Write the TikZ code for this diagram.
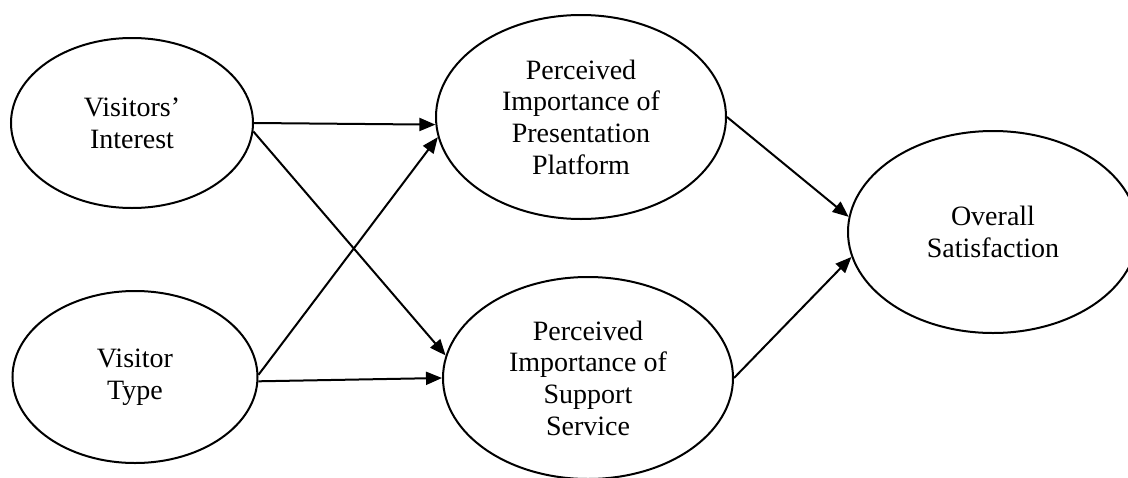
\documentclass[tikz,border=0pt]{standalone}
\usepackage{fontspec}
\setmainfont{Liberation Serif}
\usetikzlibrary{shapes.geometric,arrows.meta}
\begin{document}
\begin{tikzpicture}[x=1pt,y=-1pt,
  construct/.style={ellipse, draw, line width=2pt, inner sep=0pt, align=center,
    font=\fontsize{28}{31.7}\selectfont},
  arr/.style={line width=2pt, -{Triangle[length=16pt,width=13pt]}}]
\useasboundingbox (0,0) rectangle (1128,477);
% latent constructs
\node[construct, minimum width=242pt, minimum height=170pt] (i) at (132,123) {Visitors’\\Interest};
\node[construct, minimum width=245pt, minimum height=172pt] (t) at (135,377) {Visitor\\Type};
\node[construct, minimum width=290pt, minimum height=204pt] (p) at (581,117) {Perceived\\Importance of\\Presentation\\Platform};
\node[construct, minimum width=290pt, minimum height=202pt] (s) at (588,378) {Perceived\\Importance of\\Support\\Service};
\node[construct, minimum width=290pt, minimum height=202pt] (o) at (993,232) {Overall\\Satisfaction};
% paths
\draw[arr] (i.east) -- (p.183);
\draw[arr] (i.-4) -- (s.171);
\draw[arr] (t.1) -- (p.188);
\draw[arr] (t.-2) -- (s.west);
\draw[arr] (p.east) -- (o.174);
\draw[arr] (s.east) -- (o.190);
\end{tikzpicture}
\end{document}
